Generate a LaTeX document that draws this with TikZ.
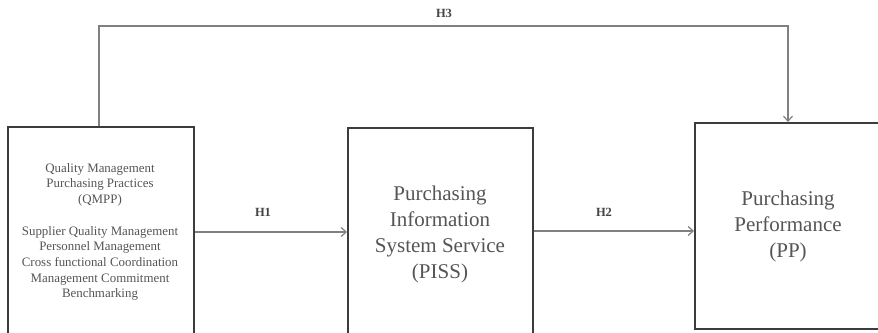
\documentclass[tikz,border=0pt]{standalone}
\usepackage{fontspec}
\setmainfont{Liberation Serif}
\usetikzlibrary{arrows.meta}
\definecolor{txt}{HTML}{555555}
\definecolor{boxline}{HTML}{3C3C3C}
\definecolor{conn}{HTML}{808080}
\begin{document}
\begin{tikzpicture}[x=1pt,y=-1pt,
  box/.style={draw=boxline,line width=2pt,inner sep=0pt,anchor=north west},
  bigtext/.style={text=txt,align=center,font=\fontsize{21}{26}\selectfont},
  smalltext/.style={text=txt,align=center,font=\fontsize{12.9}{15.7}\selectfont},
  hlabel/.style={text=txt!80!black,font=\fontsize{12.5}{14}\selectfont\bfseries},
  link/.style={draw=conn,line width=1.2pt,-{Straight Barb[length=5pt,width=9pt]}}]
\useasboundingbox (0,0) rectangle (878,332);
\clip (0,0) rectangle (878,332);
\fill[white] (0,0) rectangle (878,332);
% boxes
\node[box,minimum width=186pt,minimum height=230pt] (b1) at (7,126) {};
\node[box,minimum width=185pt,minimum height=230pt] (b2) at (347,127) {};
\node[box,minimum width=190pt,minimum height=206pt] (b3) at (694,122) {};
% texts
\node[smalltext] (t1) at (100,232) {Quality Management\\Purchasing Practices\\(QMPP)\\[15.7pt]Supplier Quality Management\\Personnel Management\\Cross functional Coordination\\Management Commitment\\Benchmarking};
\node[bigtext] (t2) at (440,234) {Purchasing\\Information\\System Service\\(PISS)};
\node[bigtext] (t3) at (788,226) {Purchasing\\Performance\\(PP)};
% connector helper coordinates
\coordinate (y12) at (0,232);
\coordinate (y23) at (0,231);
\coordinate (h3l) at (99,26);
\coordinate (h3r) at (788,26);
\draw[link] (b1.east |- y12) -- (b2.west |- y12);
\draw[link] (b2.east |- y23) -- (b3.west |- y23);
\draw[link] (b1.north -| h3l) -- (h3l) -- (h3r) -- (b3.north -| h3r);
% labels
\node[hlabel] (l1) at (263,212) {H1};
\node[hlabel] (l2) at (604,212) {H2};
\node[hlabel] (l3) at (444,13) {H3};
\end{tikzpicture}
\end{document}
